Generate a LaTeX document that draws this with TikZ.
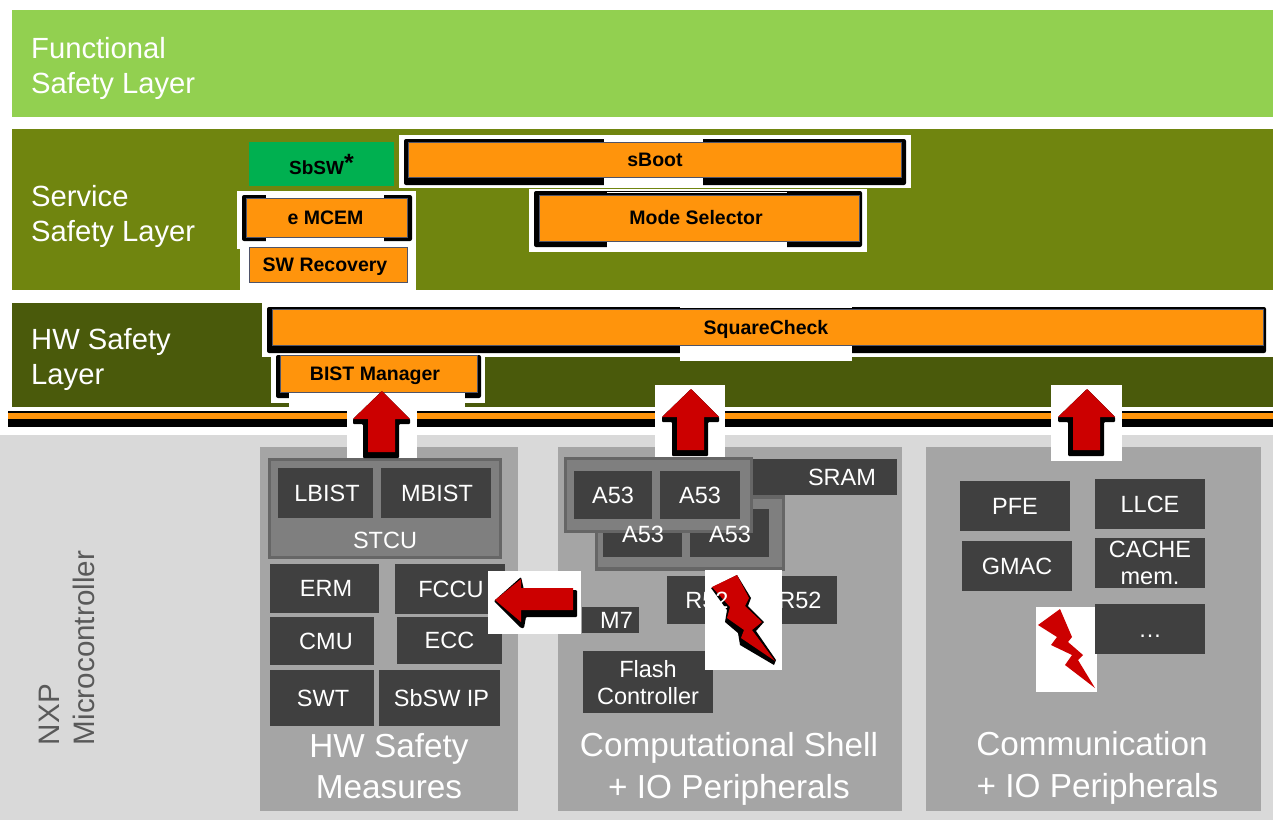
\documentclass[tikz,border=0pt]{standalone}
\usepackage{fontspec}
\setmainfont{Liberation Sans}
\usetikzlibrary{positioning,calc}
\definecolor{funcgreen}{HTML}{92D050}
\definecolor{servgreen}{HTML}{70850F}
\definecolor{hwgreen}{HTML}{4A5A0B}
\definecolor{sbswgreen}{HTML}{00B050}
\definecolor{boxorange}{HTML}{FF940C}
\definecolor{boxedge}{HTML}{4F5468}
\definecolor{chipgray}{HTML}{404040}
\definecolor{groupgray}{HTML}{7F7F7F}
\definecolor{groupedge}{HTML}{666666}
\definecolor{panelgray}{HTML}{A5A5A5}
\definecolor{basegray}{HTML}{D9D9D9}
\definecolor{nxpgray}{HTML}{595959}
\definecolor{arrowred}{HTML}{CC0000}
\newcommand{\fsz}[2]{\fontsize{#1}{#2}\selectfont}
\newcommand{\uparrowshape}[2]{%
  \fill[black, rounded corners=1pt] (#1-29,#2+33) -- (#1-29,#2+28) -- (#1,#2) -- (#1+28,#2+28) -- (#1+28,#2+33)
    -- (#1+17,#2+33) -- (#1+17,#2+67) -- (#1-19,#2+67) -- (#1-19,#2+33) -- cycle;
  \shade[top color=red!80!black, bottom color=arrowred] (#1-14,#2+61) -- (#1-14,#2+28) -- (#1-29,#2+28) -- (#1,#2)
    -- (#1+28,#2+28) -- (#1+13,#2+28) -- (#1+13,#2+61) -- cycle;}
\begin{document}
\begin{tikzpicture}[
  x=1pt, y=-1pt,
  layer/.style={anchor=north west, inner sep=0pt, outer sep=0pt},
  layertext/.style={anchor=west, align=left, text=white, font=\fsz{29.2}{35}, inner sep=0pt},
  chip/.style={fill=chipgray, text=white, align=center, inner sep=0pt, font=\fsz{23.5}{27}, text depth=-3pt},
  chiptwo/.style={chip, text depth=-4pt},
  chiptext/.style={text=white, inner sep=0pt, font=\fsz{23.5}{27}, text depth=-3pt},
  group/.style={fill=groupgray, draw=groupedge, line width=3.5pt, inner sep=0pt},
  panel/.style={fill=panelgray, inner sep=0pt},
  paneltext/.style={align=center, text=white, font=\fsz{33.3}{41.5}, inner sep=0pt},
  swbox/.style={fill=boxorange, draw=boxedge, line width=.8pt, inner sep=0pt, font=\bfseries\fsz{19.5}{23}, text depth=-4pt},
  halo/.style={fill=white, inner sep=0pt},
]
\useasboundingbox (0,0) rectangle (1273,820);
\fill[white] (0,0) rectangle (1273,820);
% layers
\node[layer, fill=funcgreen, minimum width=1261pt, minimum height=107pt] (func) at (12,10) {};
\node[layer, fill=servgreen, minimum width=1261pt, minimum height=161pt] (serv) at (12,129) {};
\node[layer, fill=hwgreen, minimum width=1261pt, minimum height=104pt] (hw) at (12,303) {};
\node[layer, fill=basegray, minimum width=1273pt, minimum height=385pt] (base) at (0,435) {};
\node[layertext] (functext) at (31,68) {Functional\\Safety Layer};
\node[layertext] (servtext) at (31,216) {Service\\Safety Layer};
\node[layertext] (hwtext) at (31,359) {HW Safety\\Layer};
\node[text=nxpgray, rotate=90, align=left, font=\fsz{29.6}{35}, inner sep=0pt] (nxp) at (67,648) {NXP\\Microcontroller};
% separator
\fill[black] (8,411) rectangle (1273,427);
\fill[boxorange] (8,413) rectangle (1273,419);
% service layer
\node[fill=sbswgreen, minimum width=145pt, minimum height=44pt, inner sep=0pt, font=\bfseries\fsz{19}{23}] (sbsw) at (321.5,164) {SbSW\raisebox{3pt}{\fsz{25}{25}*}};
\fill[white] (237,191) rectangle (416,249);
\fill[white] (240,249) rectangle (416,290);
\fill[black, rounded corners=2pt] (242,195) rectangle (412,241);
\fill[white] (266,194) rectangle (384,198);
\fill[white] (266,238) rectangle (384,242);
\node[swbox, minimum width=161pt, minimum height=39pt, text depth=0pt] (mcem) at (326.5,217.5) {\hspace*{-2pt}e MCEM};
\node[swbox, minimum width=158pt, minimum height=35pt] (recovery) at (328,265) {\hspace*{-6pt}SW Recovery};
\fill[white] (399,135) rectangle (911,188);
\fill[black, rounded corners=2pt] (404,139) rectangle (906,185);
\fill[white] (604,138) rectangle (703,142);
\fill[white] (604,178) rectangle (703,186);
\node[swbox, minimum width=493pt, minimum height=35pt] (sboot) at (655,159.5) {sBoot};
\fill[white] (529,189) rectangle (867,252);
\fill[black, rounded corners=2pt] (534,191) rectangle (862,247);
\fill[white] (607,192) rectangle (787,193);
\fill[white] (607,242) rectangle (787,248);
\node[swbox, minimum width=320pt, minimum height=46pt, text depth=1pt] (mode) at (699,218) {\hspace*{-6pt}Mode Selector};
% hw layer
\fill[white] (262,303) rectangle (1273,357);
\fill[black, rounded corners=2pt] (267,307) rectangle (1266,353);
\fill[white] (680,305) rectangle (852,308);
\fill[white] (680,346) rectangle (852,361);
\node[swbox, minimum width=991pt, minimum height=36pt] (square) at (767.5,327) {\hspace*{-3pt}SquareCheck};
\fill[white] (271,357) rectangle (485,403);
\fill[white] (289,403) rectangle (465,407);
\fill[black, rounded corners=2pt] (276,355) rectangle (481,398);
\fill[white] (289,393) rectangle (465,399);
\node[swbox, minimum width=197pt, minimum height=37pt] (bist) at (378.5,373.5) {\hspace*{-7pt}BIST Manager};
% panels
\node[layer, panel, minimum width=258pt, minimum height=364pt] (hwpanel) at (260,447) {};
\node[layer, panel, minimum width=344pt, minimum height=364pt] (comppanel) at (558,447) {};
\node[layer, panel, minimum width=335pt, minimum height=364pt] (commpanel) at (926,447) {};
\node[paneltext] (hwtitle) at (389,766) {HW Safety\\Measures};
\node[paneltext] (comptitle) at (729,769) {Computational Shell\\+ IO Peripherals};
\node[paneltext] (commtitle) at (1097.5,768) {\hspace*{-11pt}Communication\\+ IO Peripherals};
% hw safety measures
\node[group, minimum width=231pt, minimum height=98pt] (stcu) at (385,508.5) {};
\node[chiptext] (stcutext) at (385,540) {STCU};
\node[chip, minimum width=95pt, minimum height=50pt] (lbist) at (325.5,493) {\hspace*{3pt}LBIST};
\node[chip, minimum width=110pt, minimum height=50pt] (mbist) at (436,493) {\hspace*{2pt}MBIST};
\node[chip, minimum width=109pt, minimum height=49pt] (erm) at (324.5,588.5) {\hspace*{3pt}ERM};
\node[chip, minimum width=110pt, minimum height=50pt] (fccu) at (450,589) {\hspace*{2pt}FCCU};
\node[chip, minimum width=104pt, minimum height=48pt, text depth=-5pt] (cmu) at (322,641) {\hspace*{8pt}CMU};
\node[chip, minimum width=105pt, minimum height=47pt] (ecc) at (449.5,640.5) {ECC};
\node[chip, minimum width=104pt, minimum height=56pt, text depth=-8pt] (swt) at (322,698) {\hspace*{2pt}SWT};
\node[chip, minimum width=121pt, minimum height=56pt] (sbswip) at (439.5,698) {\hspace*{4pt}SbSW IP};
% computational shell
\node[chip, minimum width=144pt, minimum height=36pt, text depth=-6pt] (sram) at (825,477) {\hspace*{34pt}SRAM};
\node[group, minimum width=187pt, minimum height=72pt] (coreb) at (690,533) {};
\node[chip, minimum width=79pt, minimum height=48pt] (a53c) at (642.5,533) {};
\node[chip, minimum width=79pt, minimum height=48pt] (a53d) at (729.5,533) {};
\node[group, minimum width=186pt, minimum height=73pt] (corea) at (658.5,495) {};
\node[chip, minimum width=78pt, minimum height=48pt] (a53a) at (613,495) {A53};
\node[chip, minimum width=80pt, minimum height=48pt] (a53b) at (700,495) {A53};
\node[chiptext] (a53ctext) at (643,534) {A53};
\node[chiptext] (a53dtext) at (730,534) {A53};
\node[chip, minimum width=57pt, minimum height=26pt] (mseven) at (610.5,620) {\hspace*{12pt}M7};
\node[chip, minimum width=80pt, minimum height=48pt] (rone) at (707,600) {};
\node[chip, minimum width=74pt, minimum height=48pt] (rtwo) at (800,600) {R52};
\node[chiptwo, minimum width=130pt, minimum height=62pt] (flash) at (648,682) {Flash\\Controller};
% communication
\node[chip, minimum width=110pt, minimum height=50pt] (pfe) at (1015,506) {PFE};
\node[chip, minimum width=110pt, minimum height=50pt] (llce) at (1150,504) {LLCE};
\node[chip, minimum width=110pt, minimum height=50pt] (gmac) at (1017,566) {GMAC};
\node[chiptwo, minimum width=110pt, minimum height=50pt] (cache) at (1150,563) {CACHE\\mem.};
\node[halo, minimum width=61pt, minimum height=85pt] (bolthalob) at (1066.5,649.5) {};
\node[chip, minimum width=110pt, minimum height=50pt, text height=16pt, text depth=0pt] (more) at (1150,629) {\ldots};
% arrows
\node[halo, minimum width=70pt, minimum height=52pt] (uphaloa) at (382,432) {};
\uparrowshape{382}{391}
\node[halo, minimum width=70pt, minimum height=72pt] (uphalob) at (690,421) {};
\uparrowshape{691}{389}
\node[halo, minimum width=71pt, minimum height=76pt] (uphaloc) at (1086.5,423) {};
\uparrowshape{1087}{389}
\node[halo, minimum width=93pt, minimum height=63pt] (lefthalo) at (534.5,602.5) {};
\fill[black, rounded corners=1pt] (494,601) -- (521,577) -- (524,590) -- (577,590) -- (577,617) -- (526,617) -- (524,628) -- (521,628) -- cycle;
\shade[left color=red!80!black, right color=arrowred] (495,600) -- (521,579) -- (521,588) -- (573,588) -- (573,610) -- (521,610) -- (521,622) -- cycle;
\node[halo, minimum width=77pt, minimum height=100pt] (bolthaloa) at (743.5,620) {};
\fill[black] (711,588) -- (737,575) -- (751,598) -- (748,606) -- (764,622) -- (756,631) -- (776,660) -- (774,665) -- (740,645) -- (738,633) -- (725,622) -- (727,610) -- cycle;
\shade[top color=red!80!black, bottom color=arrowred] (712,587) -- (737,575) -- (749,598) -- (745,606) -- (762,622) -- (752,630) -- (775,661) -- (741,638) -- (744,630) -- (727,618) -- (730,607) -- cycle;
\fill[arrowred] (1038,625) -- (1060,609) -- (1072,637) -- (1068,642) -- (1083,655) -- (1078,660) -- (1095,688) -- (1065,665) -- (1072,655) -- (1051,645) -- (1057,637) -- cycle;
\node[chiptext] (ronetext) at (707,600) {R52};
\end{tikzpicture}
\end{document}
